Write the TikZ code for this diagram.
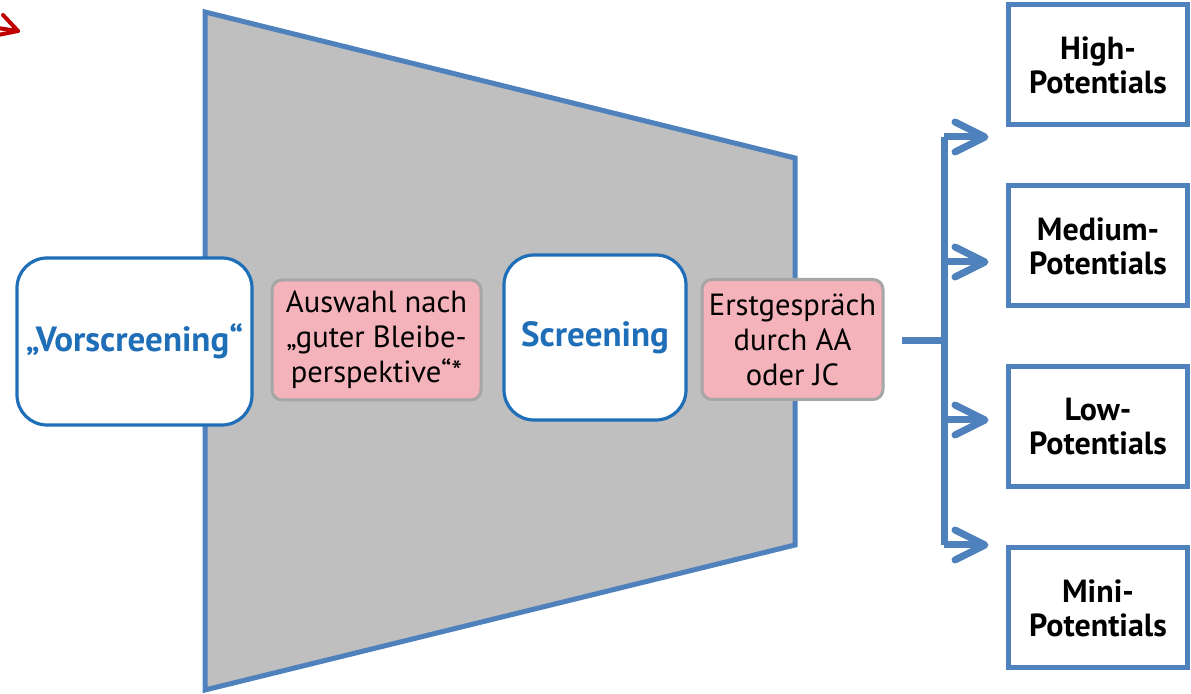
\documentclass[tikz,border=0pt]{standalone}
\usepackage{fontspec}
\setmainfont{PT Sans}

\definecolor{funnelblue}{HTML}{4F81BD}
\definecolor{stageblue}{HTML}{1F6EB8}
\definecolor{funnelgray}{HTML}{BFBFBF}
\definecolor{filterpink}{HTML}{F4B2BA}
\definecolor{filterborder}{HTML}{A6A6A6}
\definecolor{markred}{HTML}{C00000}

\tikzset{
  stage/.style={draw=stageblue, fill=white, line width=1.6pt, rounded corners=15pt,
    text=stageblue, font=\bfseries\fontsize{17.5}{20}\selectfont, align=center, inner sep=0pt},
  filter/.style={draw=filterborder, fill=filterpink, line width=1.5pt, rounded corners=5pt,
    font=\fontsize{15.3}{17.5}\selectfont, align=center, inner sep=0pt,
    minimum width=104.5pt, minimum height=60pt},
  potential/.style={draw=funnelblue, fill=white, line width=2.5pt, align=center,
    font=\bfseries\fontsize{16}{17}\selectfont, inner sep=0pt,
    minimum width=89.5pt, minimum height=60pt},
  fork/.style={draw=funnelblue, line width=3.5pt},
  barb/.style={fork, line cap=round, line join=round}
}

\begin{document}
\begin{tikzpicture}[x=0.5pt,y=-0.5pt]
        \useasboundingbox (0,0) rectangle (1191,694);

        \draw[markred, line width=2pt, line cap=round, line join=round] (-30,24) -- (18,31);
        \draw[markred, line width=2pt, line cap=round, line join=round] (3,15) -- (18,31) -- (-2,35);

        \draw[funnelblue, fill=funnelgray, line width=2.5pt] (205,12) -- (795,158) -- (795,545) -- (205,690) -- cycle;

        \node[stage, minimum width=117.5pt, minimum height=83.5pt] (vor) at (134.5,341.5) {„Vorscreening“};
        \node[filter] (ausw) at (376.5,340) {Auswahl nach\\„guter Bleibe-\\perspektive“*};
        \node[stage, minimum width=91pt, minimum height=82.5pt] (scr) at (595,337.5) {Screening};
        \node[filter, minimum width=90.5pt] (erst) at (792.5,339.5) {Erstgespräch\\durch AA\\oder JC};

        \node[potential] (high) at (1098,65) {High-\\Potentials};
        \node[potential] (medium) at (1098,246) {Medium-\\Potentials};
        \node[potential] (low) at (1098,427) {Low-\\Potentials};
        \node[potential] (mini) at (1098,608) {Mini-\\Potentials};

        \coordinate (split) at (902,341);
        \coordinate (join) at (944,341);
        \coordinate (highin) at (985,137);
        \coordinate (mediumin) at (985,262);
        \coordinate (lowin) at (985,420);
        \coordinate (miniin) at (985,545);

        \draw[fork] (split) -- (join);
        \draw[fork] (join |- highin) -- (join |- miniin);
        \draw[fork] (join |- highin) -- (highin);
        \draw[fork] (join |- mediumin) -- (mediumin);
        \draw[fork] (join |- lowin) -- (lowin);
        \draw[fork] (join |- miniin) -- (miniin);
        \draw[barb] (highin) ++(-30,-15) -- (highin) -- ++(-30,15);
        \draw[barb] (mediumin) ++(-30,-15) -- (mediumin) -- ++(-30,15);
        \draw[barb] (lowin) ++(-30,-15) -- (lowin) -- ++(-30,15);
        \draw[barb] (miniin) ++(-30,-15) -- (miniin) -- ++(-30,15);

        \end{tikzpicture}
\end{document}
